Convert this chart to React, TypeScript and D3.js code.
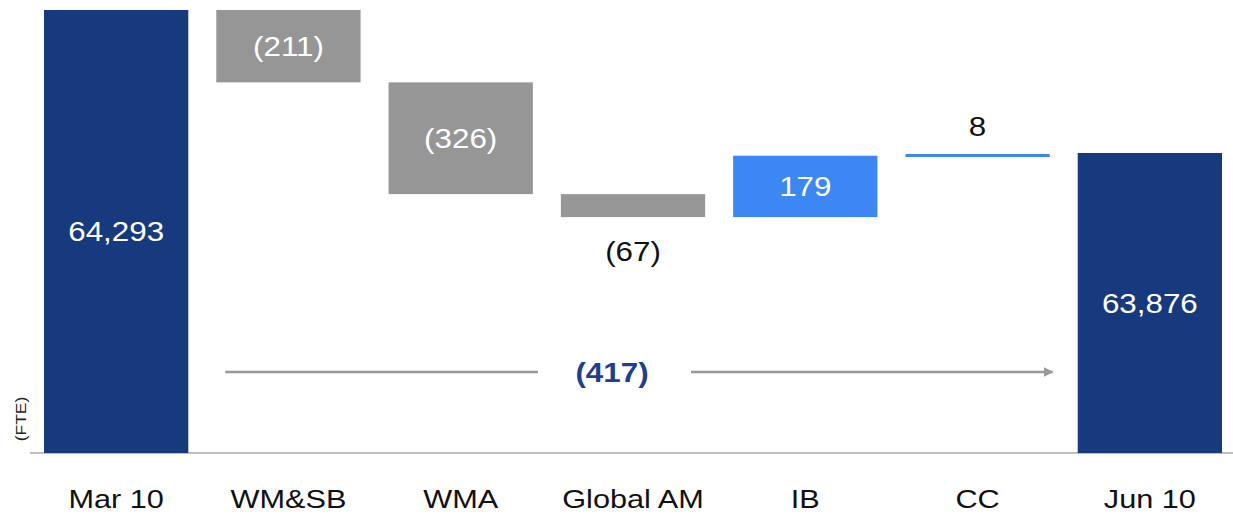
import React from "react";
import * as d3 from "d3";

const categories = ["Mar 10", "WM&SB", "WMA", "Global AM", "IB", "CC", "Jun 10"];
const kinds = ["total", "delta", "delta", "delta", "delta", "delta", "total"];
const values = [64293, -211, -326, -67, 179, 8, 63876];
const labels = ["64,293", "(211)", "(326)", "(67)", "179", "8", "63,876"];
const totalChange = "(417)";
const axisMin = 63001;

const W = 1233, H = 519;
const DARK = "#173A7E", GRAY = "#969696", LIGHT = "#3D87F5";

function SText({ x, y, size, sx, fill, weight, children }: any) {
  return (
    <text transform={`translate(${x},${y}) scale(${sx},1)`} dy="0.35em" textAnchor="middle" fill={fill} fontSize={size} fontWeight={weight || "normal"}>
      {children}
    </text>
  );
}

export default function App() {
  const x = d3.scaleBand().domain(categories).range([30, 1236]).paddingInner(0.1625).paddingOuter(0.08125);
  const y = d3.scaleLinear().domain([axisMin, 64293]).range([453, 10]);
  let run = 0;
  const bars = categories.map((c, i) => {
    let y0, y1;
    if (kinds[i] === "total") { y0 = axisMin; y1 = values[i]; run = values[i]; }
    else { y0 = run; y1 = run + values[i]; run = y1; }
    const top = y(Math.max(y0, y1)), bot = y(Math.min(y0, y1));
    const color = kinds[i] === "total" ? DARK : values[i] < 0 ? GRAY : LIGHT;
    return { c, i, top, bot, color };
  });
  const bw = x.bandwidth();
  const font = "Liberation Sans, Arial, sans-serif";
  const arrowY = 372;
  const ax0 = (x("WM&SB") as number) + 9;
  const ax1 = (x("CC") as number) + bw + 3;
  const mid = 612;
  return (
    <svg width={W} height={H} style={{ position: "absolute", left: 0, top: 0 }} fontFamily={font}>
      <defs>
        <marker id="ah" viewBox="0 0 10 10" refX="9" refY="5" markerWidth="4" markerHeight="4" orient="auto">
          <path d="M0,0 L10,5 L0,10 z" fill="#999" />
        </marker>
      </defs>
      <line x1={30} x2={1233} y1={453} y2={453} stroke="#aaa" strokeWidth={1.5} />
      {bars.map(b => {
        const bx = x(b.c) as number;
        const cx = bx + bw / 2;
        const h = b.bot - b.top;
        const isLine = h < 6;
        const inside = h > 40;
        return (
          <g key={b.c}>
            {isLine ? (
              <rect x={bx} y={b.top + 1} width={bw} height={3} fill={b.color} />
            ) : (
              <rect x={bx} y={b.top} width={bw} height={h} fill={b.color} />
            )}
            {inside ? (
              <SText x={cx} y={(b.top + b.bot) / 2} size={28} sx={1.12} fill="#fff">{labels[b.i]}</SText>
            ) : values[b.i] < 0 ? (
              <SText x={cx} y={b.bot + 34} size={28} sx={1.12} fill="#111">{labels[b.i]}</SText>
            ) : (
              <SText x={cx} y={b.top - 27} size={28} sx={1.12} fill="#111">{labels[b.i]}</SText>
            )}
            <SText x={cx} y={499} size={26} sx={1.18} fill="#111">{b.c}</SText>
          </g>
        );
      })}
      <line x1={ax0} x2={538} y1={arrowY} y2={arrowY} stroke="#999" strokeWidth={2.5} />
      <line x1={691} x2={ax1} y1={arrowY} y2={arrowY} stroke="#999" strokeWidth={2.5} markerEnd="url(#ah)" />
      <SText x={mid} y={arrowY} size={28} sx={1.12} fill="#1F3F8F" weight="bold">{totalChange}</SText>
      <text transform="translate(26,419) rotate(-90) scale(1.25,1)" textAnchor="middle" fill="#222" fontSize={14}>(FTE)</text>
    </svg>
  );
}
